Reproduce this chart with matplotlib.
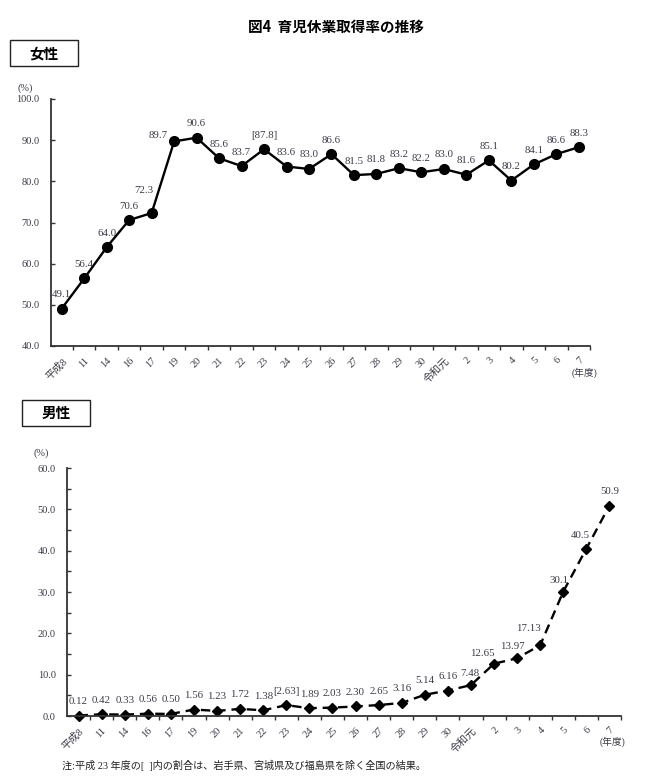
import matplotlib.pyplot as plt
import matplotlib as mpl

mpl.rcParams['font.family'] = ['Liberation Serif', 'Noto Sans CJK JP']

years = ['平成8', '11', '14', '16', '17', '19', '20', '21', '22', '23', '24', '25',
         '26', '27', '28', '29', '30', '令和元', '2', '3', '4', '5', '6', '7']

female = [49.1, 56.4, 64.0, 70.6, 72.3, 89.7, 90.6, 85.6, 83.7, 87.8, 83.6, 83.0,
          86.6, 81.5, 81.8, 83.2, 82.2, 83.0, 81.6, 85.1, 80.2, 84.1, 86.6, 88.3]

male = [0.12, 0.42, 0.33, 0.56, 0.50, 1.56, 1.23, 1.72, 1.38, 2.63, 1.89, 2.03,
        2.30, 2.65, 3.16, 5.14, 6.16, 7.48, 12.65, 13.97, 17.13, 30.1, 40.5, 50.9]

bracket_year = '23'

W, H = 651, 777
fig = plt.figure(figsize=(W / 100, H / 100), dpi=100)

txt_col = '#3a3a48'
px = 0.72  # points per pixel


def frac(x0, y0, x1, y1):
    return [x0 / W, 1 - y1 / H, (x1 - x0) / W, (y1 - y0) / H]


def style_axis(ax, ymin, ymax, step, minor=None):
    x = range(len(years))
    for s in ['top', 'right']:
        ax.spines[s].set_visible(False)
    for s in ['left', 'bottom']:
        ax.spines[s].set_color('#333333')
        ax.spines[s].set_linewidth(1.3)
    ax.set_xlim(-0.5, len(years) - 0.5)
    ax.set_ylim(ymin, ymax)
    ax.set_yticks([ymin + i * step for i in range(int(round((ymax - ymin) / step)) + 1)])
    ax.set_yticklabels([f'{v:.1f}' for v in ax.get_yticks()], color=txt_col, fontsize=7.5)
    if minor:
        ax.set_yticks([ymin + minor + i * step for i in range(int(round((ymax - ymin) / step)))],
                      minor=True)
    ax.tick_params(axis='y', which='both', direction='in', length=3, width=1,
                   color='#333333', pad=8)
    ax.set_xticks([i + 0.5 for i in x[:-1]] + [len(years) - 0.5])
    ax.set_xticklabels([])
    ax.set_xticks(list(x), minor=True)
    ax.set_xticklabels(years, minor=True, rotation=45, ha='right', va='top',
                       rotation_mode='anchor', fontsize=7.5, color=txt_col)
    ax.tick_params(axis='x', which='major', direction='out', length=3, width=1,
                   color='#333333')
    ax.tick_params(axis='x', which='minor', length=0, pad=7)


def add_labels(ax, vals, fmt, offsets):
    for i, v in enumerate(vals):
        s = fmt(v)
        if years[i] == bracket_year:
            s = '[' + s + ']'
        dx, dy = offsets.get(i, (0, 14))
        ax.annotate(s, (i, v), xytext=(dx * px, dy * px), textcoords='offset points',
                    ha='center', va='center', fontsize=7.8, color=txt_col)


# title
fig.text(336 / W, 1 - 27 / H, '図4  育児休業取得率の推移', ha='center', va='center',
         fontsize=10.5, fontweight='bold', family=['Noto Sans CJK JP'])


def box_label(x0, y0, x1, y1, s):
    fig.patches.append(mpl.patches.Rectangle((x0 / W, 1 - y1 / H), (x1 - x0) / W,
                                             (y1 - y0) / H, transform=fig.transFigure,
                                             fill=False, ec='#222222', lw=1.0))
    fig.text((x0 + x1) / 2 / W, 1 - (y0 + y1) / 2 / H, s, ha='center', va='center',
             fontsize=10.5, fontweight='bold', family=['Noto Sans CJK JP'])


box_label(10, 40, 78, 66, '女性')
box_label(22, 400, 90, 426, '男性')

# female
ax1 = fig.add_axes(frac(50.5, 99, 590, 346))
style_axis(ax1, 40.0, 100.0, 10.0)
ax1.plot(range(len(years)), female, color='black', lw=1.7, marker='o', ms=7,
         clip_on=False)
add_labels(ax1, female, lambda v: f'{v:.1f}', {4: (-8, 23), 5: (-16, 6)})
fig.text(18 / W, 1 - 88 / H, '(%)', fontsize=7.5, color=txt_col, va='center')
fig.text(585 / W, 1 - 373 / H, '(年度)', fontsize=7, color=txt_col, ha='center',
         va='center')

# male
ax2 = fig.add_axes(frac(67, 468, 621, 716))
style_axis(ax2, 0.0, 60.0, 10.0, minor=5.0)
ax2.plot(range(len(years)), male, color='black', lw=1.7, ls=(0, (4, 2.5)), marker='D',
         ms=5.5, clip_on=False)
add_labels(ax2, male, lambda v: f'{v:.2f}' if v < 20 else f'{v:.1f}',
           {17: (-1, 12), 18: (-12, 10), 19: (-5, 12), 20: (-12, 17), 21: (-4, 11),
            22: (-6, 13)})
fig.text(33 / W, 1 - 453 / H, '(%)', fontsize=7.5, color=txt_col, va='center')
fig.text(612 / W, 1 - 742 / H, '(年度)', fontsize=7, color=txt_col, ha='center',
         va='center')

fig.text(62 / W, 1 - 765 / H,
         '注:平成 23 年度の[  ]内の割合は、岩手県、宮城県及び福島県を除く全国の結果。',
         fontsize=7.3, color='#222222', va='center')

fig.savefig('out.png', dpi=100)
